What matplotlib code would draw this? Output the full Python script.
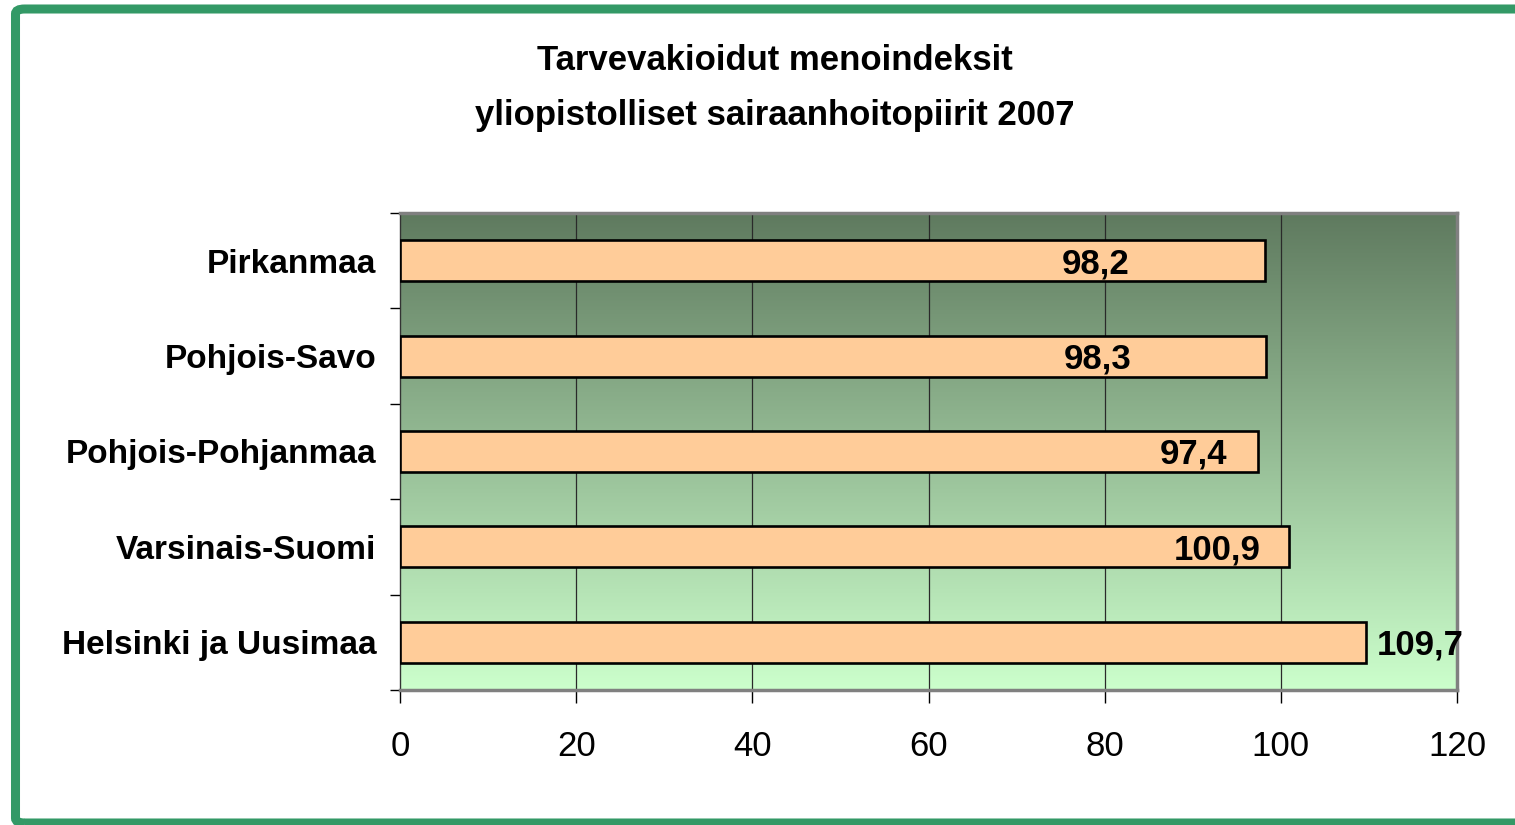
import numpy as np
import matplotlib
matplotlib.use("Agg")
import matplotlib.pyplot as plt
from matplotlib.patches import FancyBboxPatch

# data
regions = ["Pirkanmaa", "Pohjois-Savo", "Pohjois-Pohjanmaa", "Varsinais-Suomi", "Helsinki ja Uusimaa"]
values = [98.2, 98.3, 97.4, 100.9, 109.7]
value_labels = ["98,2", "98,3", "97,4", "100,9", "109,7"]
x_ticks = [0, 20, 40, 60, 80, 100, 120]

title = "Tarvevakioidut menoindeksit\nyliopistolliset sairaanhoitopiirit 2007"

# where Excel happened to put the data labels (data units)
label_x = [79.0, 79.2, 90.1, 92.8, 115.8]

FONT = ["Liberation Sans Narrow", "Liberation Sans", "DejaVu Sans"]

fig = plt.figure(figsize=(15.15, 8.25), dpi=100)
fig.patch.set_facecolor("white")

# green frame around the whole chart
frame = FancyBboxPatch((15.5 / 1515, 2 / 825), 1.05, 1 - 11 / 825,
                       boxstyle="round,pad=0,rounding_size=0.006",
                       transform=fig.transFigure, fill=False,
                       edgecolor="#339966", linewidth=6.5, clip_on=False)
fig.patches.append(frame)

fig.text(775 / 1515, 1 - 88 / 825, title, ha="center", va="center",
         fontsize=25, fontweight="bold", family=FONT, linespacing=1.85)

ax = fig.add_axes([400 / 1515, 1 - 690 / 825, 1057 / 1515, 477 / 825])

# vertical gradient background, dark green at top to pale green at bottom
top = np.array([95, 122, 95]) / 255
bottom = np.array([204, 255, 204]) / 255
t = np.linspace(0, 1, 256)[:, None]
grad = (top * (1 - t) + bottom * t)[:, None, :]
ax.imshow(grad, extent=[0, 1, 0, 1], transform=ax.transAxes,
          aspect="auto", zorder=0, origin="upper")

y = np.arange(len(regions))
ax.barh(y, values, height=0.43, color="#ffcc99", edgecolor="black",
        linewidth=1.9, zorder=3)

for i, (lx, lab) in enumerate(zip(label_x, value_labels)):
    ax.text(lx, y[i] + 0.03, lab, ha="center", va="center", fontsize=25,
            fontweight="bold", family=FONT, zorder=4)

ax.set_xlim(0, 120)
ax.set_ylim(len(regions) - 0.5, -0.5)

ax.set_xticks(x_ticks)
ax.set_xticklabels([str(v) for v in x_ticks], family=FONT, fontsize=25)
ax.tick_params(axis="x", direction="out", length=9, width=1, color="black", pad=20)

ax.set_yticks(y)
ax.set_yticklabels(regions, family=FONT, fontsize=24, fontweight="bold")
ax.set_yticks(np.arange(-0.5, len(regions)), minor=True)
ax.tick_params(axis="y", which="major", length=0, pad=17)
ax.tick_params(axis="y", which="minor", direction="out", length=7, width=1, color="black")

for v in x_ticks[1:-1]:
    ax.axvline(v, color="#2a2a2a", linewidth=0.9, zorder=1)

ax.spines["left"].set_color("#333333")
ax.spines["left"].set_linewidth(1)
for side in ["top", "right", "bottom"]:
    ax.spines[side].set_color("#808080")
    ax.spines[side].set_linewidth(2.5)

fig.savefig("out.png", dpi=100, facecolor="white")
